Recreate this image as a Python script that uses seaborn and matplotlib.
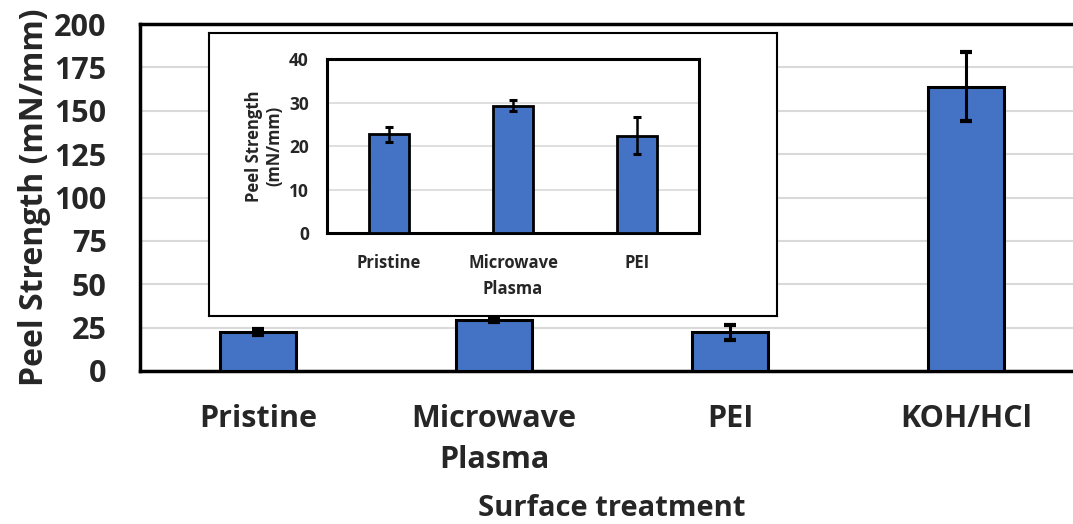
import matplotlib
matplotlib.use("Agg")
import matplotlib.pyplot as plt
import numpy as np
import seaborn as sns

# values (mN/mm)
treatments = ["Pristine", "Microwave\nPlasma", "PEI", "KOH/HCl"]
peel_mean = [22.7, 29.3, 22.4, 164.0]
peel_err = [1.7, 1.3, 4.3, 20.0]

inset_treatments = ["Pristine", "Microwave\nPlasma", "PEI"]
inset_mean = [22.7, 29.3, 22.4]
inset_err = [1.7, 1.3, 4.3]

main_ticks = [0, 25, 50, 75, 100, 125, 150, 175, 200]
inset_ticks = [0, 10, 20, 30, 40]

bar_color = "#4472C4"
grid_color = "#d9d9d9"

sns.set_style("white")
plt.rcParams["font.family"] = ["Open Sans", "DejaVu Sans"]
plt.rcParams["font.weight"] = "bold"

fig = plt.figure(figsize=(10.73, 5.24), dpi=100)

# main chart
ax = fig.add_axes([0.1305, 0.292, 0.88, 0.662])
sns.barplot(x=treatments, y=peel_mean, color=bar_color, edgecolor="black",
            linewidth=2.2, width=0.32, errorbar=None, saturation=1, ax=ax, zorder=3)
ax.errorbar(np.arange(len(treatments)), peel_mean, yerr=peel_err, fmt="none",
            ecolor="black", elinewidth=2.2, capsize=4, capthick=3, zorder=4)
ax.set_ylim(0, 200)
ax.set_xlim(-0.5, 3.5)
ax.set_yticks(main_ticks)
ax.yaxis.grid(True, color=grid_color, linewidth=1.5, zorder=0)
ax.set_axisbelow(True)
for side in ["left", "bottom", "top"]:
    ax.spines[side].set_linewidth(2.5)
    ax.spines[side].set_color("black")
ax.spines["right"].set_visible(False)
ax.tick_params(axis="y", direction="in", length=7, width=2.5, pad=24, labelsize=22)
ax.tick_params(axis="x", length=0, pad=24, labelsize=22)
for lbl in ax.get_xticklabels():
    lbl.set_linespacing(1.45)
ax.set_ylabel("Peel Strength (mN/mm)", fontsize=23, fontweight="bold", labelpad=2)
ax.set_xlabel("Surface treatment", fontsize=21, fontweight="bold", labelpad=14)

# frame around the inset
frame = fig.add_axes([0.195, 0.397, 0.529, 0.540])
frame.set_xticks([])
frame.set_yticks([])
frame.set_facecolor("white")
for side in frame.spines.values():
    side.set_linewidth(1.5)
    side.set_color("black")

# inset chart
ins = fig.add_axes([0.3048, 0.5553, 0.3466, 0.3321])
sns.barplot(x=inset_treatments, y=inset_mean, color=bar_color, edgecolor="black",
            linewidth=2.0, width=0.32, errorbar=None, saturation=1, ax=ins, zorder=3)
ins.errorbar(np.arange(len(inset_treatments)), inset_mean, yerr=inset_err, fmt="none",
             ecolor="black", elinewidth=1.8, capsize=3, capthick=2.2, zorder=4)
ins.set_ylim(0, 40)
ins.set_xlim(-0.5, 2.5)
ins.set_yticks(inset_ticks)
ins.yaxis.grid(True, color=grid_color, linewidth=1.2, zorder=0)
ins.set_axisbelow(True)
for side in ins.spines.values():
    side.set_linewidth(2.2)
    side.set_color("black")
ins.tick_params(axis="y", direction="in", length=5, width=2, pad=13, labelsize=12.5)
ins.tick_params(axis="x", length=0, pad=15, labelsize=12)
for lbl in ins.get_xticklabels():
    lbl.set_linespacing(1.6)
ins.set_ylabel("Peel Strength\n(mN/mm)", fontsize=12, fontweight="bold", labelpad=4)

fig.savefig("out.png", dpi=100)
